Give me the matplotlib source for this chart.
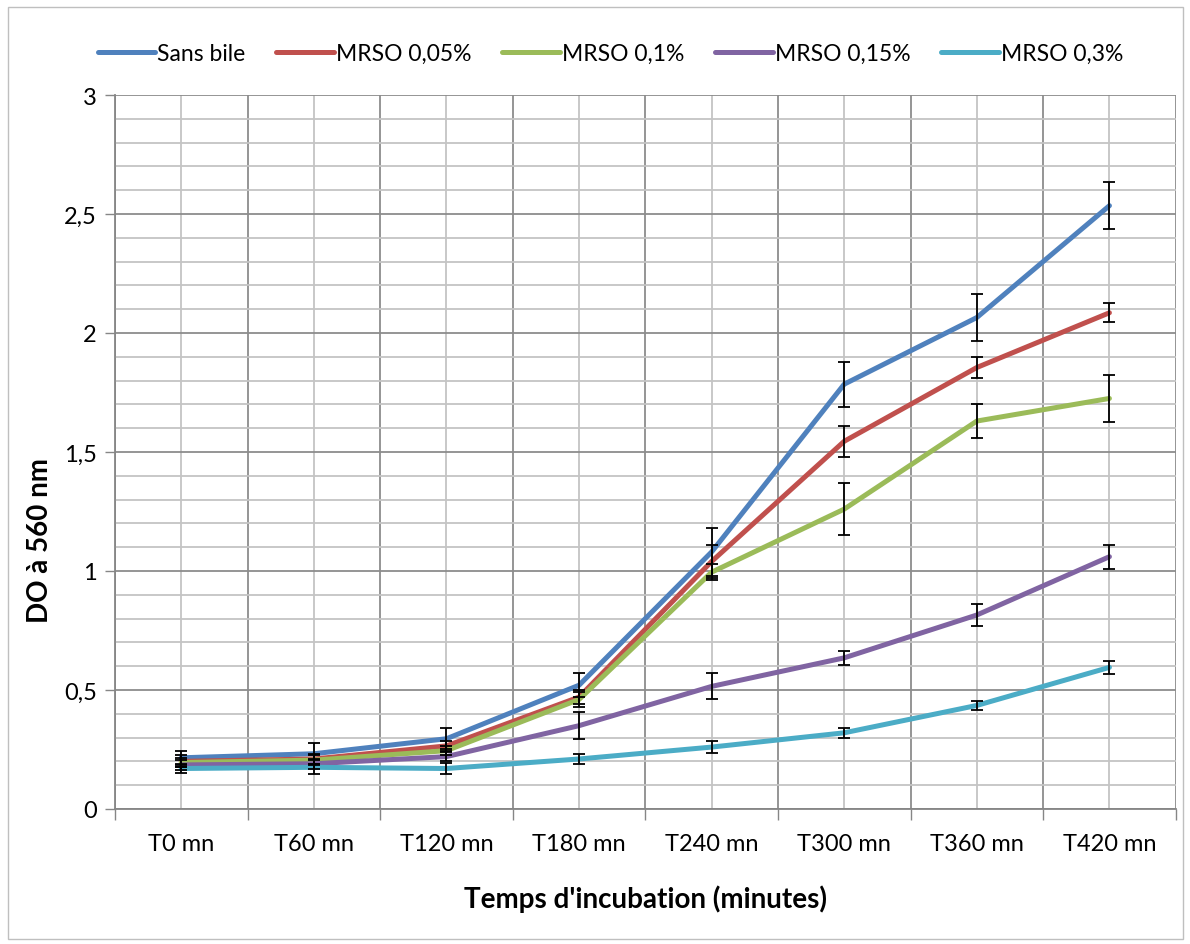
import matplotlib
matplotlib.use("Agg")
import matplotlib.pyplot as plt
from matplotlib.patches import Rectangle
from matplotlib.ticker import MultipleLocator, FixedLocator, FuncFormatter

plt.rcParams['font.family'] = ['Lato', 'DejaVu Sans']

# data
categories = ["T0 mn", "T60 mn", "T120 mn", "T180 mn", "T240 mn", "T300 mn", "T360 mn", "T420 mn"]
series_names = ["Sans bile", "MRSO 0,05%", "MRSO 0,1%", "MRSO 0,15%", "MRSO 0,3%"]
colors = ["#4F81BD", "#C0504D", "#9BBB59", "#8064A2", "#4BACC6"]

sans_bile = [0.215, 0.232, 0.295, 0.52, 1.08, 1.785, 2.065, 2.535]
mrso_005 = [0.200, 0.210, 0.265, 0.47, 1.04, 1.545, 1.855, 2.085]
mrso_01 = [0.195, 0.205, 0.245, 0.46, 0.995, 1.26, 1.63, 1.725]
mrso_015 = [0.185, 0.190, 0.220, 0.35, 0.515, 0.635, 0.815, 1.06]
mrso_03 = [0.170, 0.175, 0.170, 0.21, 0.26, 0.32, 0.435, 0.595]

err_sans_bile = [0.03, 0.045, 0.045, 0.05, 0.10, 0.095, 0.10, 0.10]
err_mrso_005 = [0.025, 0.02, 0.02, 0.03, 0.07, 0.065, 0.045, 0.04]
err_mrso_01 = [0.02, 0.02, 0.02, 0.03, 0.035, 0.11, 0.07, 0.10]
err_mrso_015 = [0.02, 0.02, 0.02, 0.058, 0.055, 0.028, 0.045, 0.05]
err_mrso_03 = [0.02, 0.03, 0.025, 0.02, 0.025, 0.02, 0.018, 0.028]

values = [sans_bile, mrso_005, mrso_01, mrso_015, mrso_03]
errors = [err_sans_bile, err_mrso_005, err_mrso_01, err_mrso_015, err_mrso_03]

fig = plt.figure(figsize=(11.9, 9.45), dpi=100)
ax = fig.add_axes([0.0966, 0.1429, 0.8914, 0.7555])

x = list(range(len(categories)))
for name, vals, col in zip(series_names, values, colors):
    ax.plot(x, vals, color=col, lw=3.6, label=name, solid_capstyle='round', zorder=3)
for vals, err in zip(values, errors):
    ax.errorbar(x, vals, yerr=err, fmt='none', ecolor='black', elinewidth=1.3,
                capsize=4.5, capthick=1.3, zorder=4)

ax.set_xlim(-0.5, 7.5)
ax.set_ylim(0, 3)

# x: boundaries as major (ticks + dark grid), centers as minor (labels + light grid)
ax.xaxis.set_major_locator(FixedLocator([i - 0.5 for i in range(len(categories) + 1)]))
ax.xaxis.set_minor_locator(FixedLocator(x))
ax.set_xticklabels([])
ax.set_xticklabels(categories, minor=True)
ax.tick_params(axis='x', which='major', length=8, width=1, color='#868686')
ax.tick_params(axis='x', which='minor', length=0, labelsize=17, pad=17)

ax.yaxis.set_major_locator(MultipleLocator(0.5))
ax.yaxis.set_minor_locator(MultipleLocator(0.1))
ax.yaxis.set_major_formatter(FuncFormatter(lambda v, p: ("%g" % v).replace(".", ",")))
ax.tick_params(axis='y', which='major', length=7, width=1, color='#868686', labelsize=17, pad=6)
ax.tick_params(axis='y', which='minor', length=0)

ax.grid(True, which='major', color='#8c8c8c', lw=1.3, zorder=0)
ax.grid(True, which='minor', color='#c4c4c4', lw=1.3, zorder=0)
ax.set_axisbelow(True)

for s in ['top', 'right']:
    ax.spines[s].set_visible(False)
for s in ['left', 'bottom']:
    ax.spines[s].set_color('#868686')
    ax.spines[s].set_linewidth(1.3)

ax.set_ylabel("DO à 560 nm", fontsize=20, fontweight='bold')
ax.yaxis.set_label_coords(-0.058, 0.377)
ax.set_xlabel("Temps d'incubation (minutes)", fontsize=20, fontweight='bold', labelpad=22)

leg = fig.legend(loc='upper center', bbox_to_anchor=(0.513, 0.975), ncol=5, frameon=False,
                 fontsize=16.5, handlelength=2.5, handletextpad=0.1, columnspacing=1.35)

fig.patches.append(Rectangle((0.007, 0.005), 0.987, 0.987, transform=fig.transFigure,
                             fill=False, edgecolor='#bfbfbf', lw=1))

fig.savefig("out.png", dpi=100)
